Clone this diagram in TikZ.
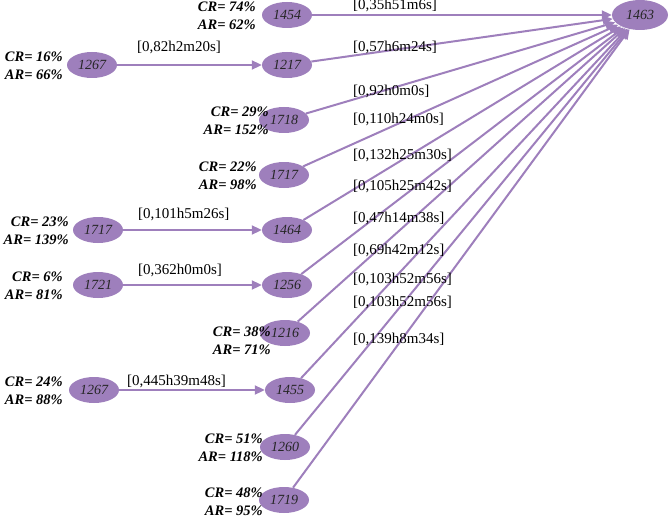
\documentclass[tikz,border=0pt]{standalone}
\usepackage{fontspec}
\setmainfont{Liberation Serif}
\usetikzlibrary{positioning, arrows.meta, shapes.geometric}
\definecolor{lilac}{HTML}{9E7FBC}
\tikzset{
  job/.style={ellipse, fill=lilac, minimum width=50pt, minimum height=26pt, inner sep=0pt, font=\itshape\fontsize{14}{14}\selectfont, text=black!85}, % task nodes
  rate/.style={align=right, font=\bfseries\itshape\fontsize{14.5}{18}\selectfont, inner sep=0pt},
  lag/.style={font=\fontsize{15}{15}\selectfont, inner sep=0pt, anchor=west},
  flow/.style={draw=lilac, line width=2pt, -{Triangle[length=10pt,width=9pt]}},
}
\begin{document}
\begin{tikzpicture}[x=1pt, y=-1pt]
  \useasboundingbox (0,0) rectangle (669,516);
  \node[job, minimum width=56pt, minimum height=30pt] (t) at (640,15) {1463};

  \node[job] (r1) at (287,15) {1454};
  \node[job] (r2) at (287,65) {1217};
  \node[job] (r3) at (284,120) {1718};
  \node[job] (r4) at (284,175) {1717};
  \node[job] (r5) at (287,230) {1464};
  \node[job] (r6) at (287,285) {1256};
  \node[job] (r7) at (285,333) {1216};
  \node[job] (r8) at (290,390) {1455};
  \node[job] (r9) at (285,447) {1260};
  \node[job] (r10) at (284,500) {1719};

  \node[job] (l2) at (92,65) {1267};
  \node[job] (l5) at (98,230) {1717};
  \node[job] (l6) at (98,285) {1721};
  \node[job] (l8) at (94,390) {1267};

  \node[rate, anchor=east] at (256,16) {CR= 74\%\\AR= 62\%};
  \node[rate, anchor=east] at (63,66) {CR= 16\%\\AR= 66\%};
  \node[rate, anchor=east] at (269,121) {CR= 29\%\\AR= 152\%};
  \node[rate, anchor=east] at (257,176) {CR= 22\%\\AR= 98\%};
  \node[rate, anchor=east] at (69,231) {CR= 23\%\\AR= 139\%};
  \node[rate, anchor=east] at (63,286) {CR= 6\%\\AR= 81\%};
  \node[rate, anchor=east] at (271,341) {CR= 38\%\\AR= 71\%};
  \node[rate, anchor=east] at (63,391) {CR= 24\%\\AR= 88\%};
  \node[rate, anchor=east] at (263,448) {CR= 51\%\\AR= 118\%};
  \node[rate, anchor=east] at (263,502) {CR= 48\%\\AR= 95\%};

  \foreach \s in {r1,r2,r3,r4,r5,r6,r7,r8,r9,r10}
    \draw[flow] (\s) -- (t);
  \draw[flow] (l2) -- (r2);
  \draw[flow] (l5) -- (r5);
  \draw[flow] (l6) -- (r6);
  \draw[flow] (l8) -- (r8);

  \node[lag] at (137,47) {[0,82h2m20s]};
  \node[lag] at (138,214) {[0,101h5m26s]};
  \node[lag] at (138,270) {[0,362h0m0s]};
  \node[lag] at (127,381) {[0,445h39m48s]};

  \node[lag] at (353,5) {[0,35h51m6s]};
  \node[lag] at (353,47) {[0,57h6m24s]};
  \node[lag] at (353,91) {[0,92h0m0s]};
  \node[lag] at (353,119) {[0,110h24m0s]};
  \node[lag] at (353,155) {[0,132h25m30s]};
  \node[lag] at (353,186) {[0,105h25m42s]};
  \node[lag] at (353,218) {[0,47h14m38s]};
  \node[lag] at (353,250) {[0,69h42m12s]};
  \node[lag] at (353,279) {[0,103h52m56s]};
  \node[lag] at (353,302) {[0,103h52m56s]};
  \node[lag] at (353,339) {[0,139h8m34s]};
\end{tikzpicture}
\end{document}
